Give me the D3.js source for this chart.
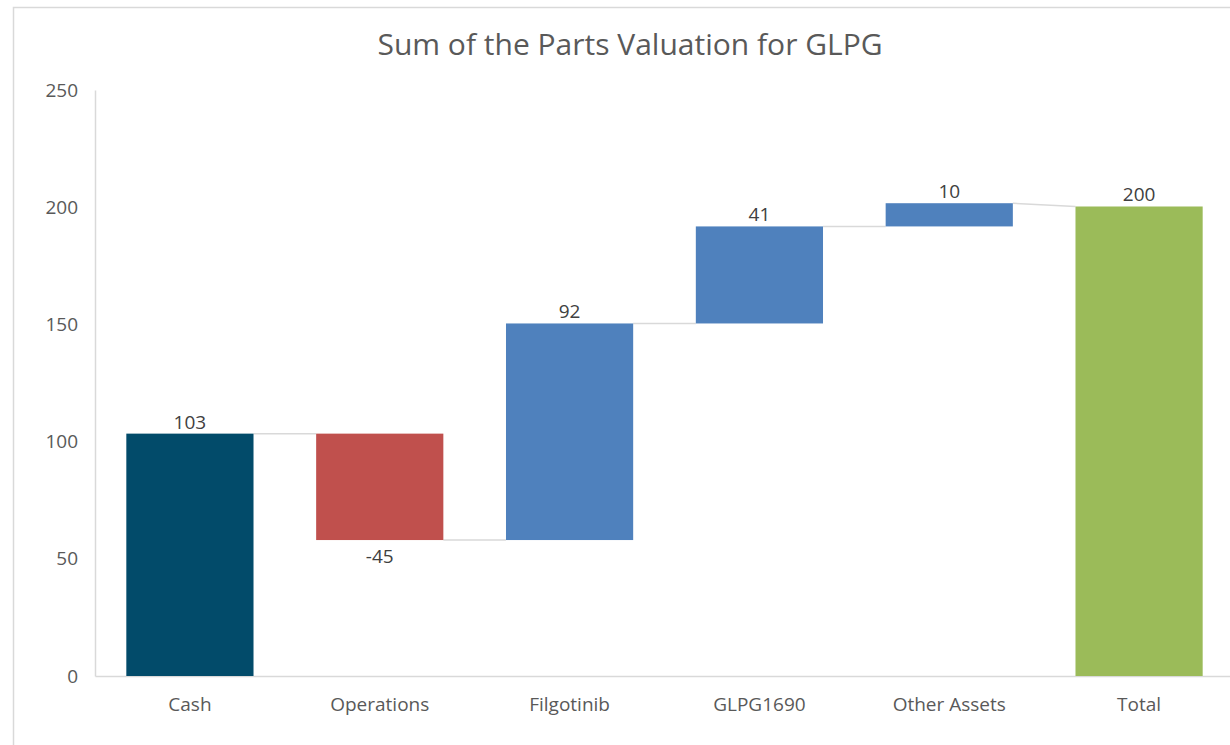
<!DOCTYPE html>
<html>
<head>
<meta charset="utf-8">
<script src="https://cdn.jsdelivr.net/npm/d3@7"></script>
<style>
  body { margin: 0; background: #fff; }
  .chart text { font-family: "Open Sans", sans-serif; }
</style>
</head>
<body>
<div class="chart"></div>
<script>
// chart data
var categories = ["Cash", "Operations", "Filgotinib", "GLPG1690", "Other Assets", "Total"];
var changes = [103.4, -45.4, 92.4, 41.4, 9.9];
var totalValue = 200.3;
var yTicks = [0, 50, 100, 150, 200, 250];
var barColors = ["#024b6a", "#c0504d", "#4f81bd", "#4f81bd", "#4f81bd", "#9bbb59"];

var svgWidth = 1230;
var svgHeight = 745;

var margin = { top: 90, right: -4, bottom: 69, left: 95 };
var width = svgWidth - margin.left - margin.right;
var height = svgHeight - margin.top - margin.bottom;

var svg = d3.select(".chart")
  .append("svg")
  .attr("width", svgWidth)
  .attr("height", svgHeight);

// outer frame
svg.append("rect")
  .attr("x", 13.5)
  .attr("y", 7.5)
  .attr("width", svgWidth)
  .attr("height", svgHeight)
  .attr("fill", "none")
  .attr("stroke", "#d9d9d9")
  .attr("stroke-width", 1.5);

svg.append("text")
  .attr("x", 630)
  .attr("y", 55)
  .attr("text-anchor", "middle")
  .attr("font-size", "30px")
  .attr("fill", "#595959")
  .text("Sum of the Parts Valuation for GLPG");

var chartGroup = svg.append("g")
  .attr("transform", `translate(${margin.left}, ${margin.top})`);

// build start/end of each bar
var running = 0;
var bars = categories.map(function(c, i) {
  var start, end, label;
  if (i < changes.length) {
    start = running;
    end = running + changes[i];
    running = end;
    label = changes[i];
  } else {
    start = 0;
    end = totalValue;
    label = totalValue;
  }
  return { name: c, start: start, end: end, label: label, color: barColors[i] };
});

var x = d3.scaleBand()
  .domain(categories)
  .range([0, width])
  .paddingInner(0.33)
  .paddingOuter(0.165);

var y = d3.scaleLinear()
  .domain([0, 250])
  .range([height, 0]);

// axes
var yAxis = d3.axisLeft(y).tickValues(yTicks).tickSize(0).tickPadding(17);
var yG = chartGroup.append("g").call(yAxis);
yG.select(".domain").attr("stroke", "#d9d9d9").attr("stroke-width", 1.5);
yG.selectAll("text").attr("font-size", "19px").attr("fill", "#595959")
  .attr("font-family", "Open Sans, sans-serif");

var xAxis = d3.axisBottom(x).tickSize(0).tickPadding(22);
var xG = chartGroup.append("g")
  .attr("transform", `translate(0, ${height})`)
  .call(xAxis);
xG.select(".domain").attr("stroke", "#d9d9d9").attr("stroke-width", 1.5);
xG.selectAll("text").attr("font-size", "19px").attr("fill", "#595959")
  .attr("font-family", "Open Sans, sans-serif");

// connector lines
var links = bars.slice(0, -1).map(function(b, i) {
  return { from: b, to: bars[i + 1] };
});
chartGroup.selectAll(".connector")
  .data(links)
  .enter()
  .append("line")
  .attr("class", "connector")
  .attr("x1", function(d) { return x(d.from.name) + x.bandwidth(); })
  .attr("x2", function(d) { return x(d.to.name); })
  .attr("y1", function(d) { return y(d.from.end); })
  .attr("y2", function(d) { return d.to.name == "Total" ? y(d.to.end) : y(d.to.start); })
  .attr("stroke", "#d9d9d9")
  .attr("stroke-width", 1.5);

// bars
chartGroup.selectAll(".bar")
  .data(bars)
  .enter()
  .append("rect")
  .attr("class", "bar")
  .attr("x", function(d) { return x(d.name); })
  .attr("width", x.bandwidth())
  .attr("y", function(d) { return y(Math.max(d.start, d.end)); })
  .attr("height", function(d) { return Math.abs(y(d.start) - y(d.end)); })
  .attr("fill", function(d) { return d.color; });

// data labels
chartGroup.selectAll(".dlabel")
  .data(bars)
  .enter()
  .append("text")
  .attr("class", "dlabel")
  .attr("x", function(d) { return x(d.name) + x.bandwidth() / 2; })
  .attr("y", function(d) {
    return d.label < 0 ? y(d.end) + 23 : y(d.end) - 5;
  })
  .attr("text-anchor", "middle")
  .attr("font-size", "19px")
  .attr("fill", "#404040")
  .text(function(d) { return String(Math.round(d.label)); });
</script>
</body>
</html>
